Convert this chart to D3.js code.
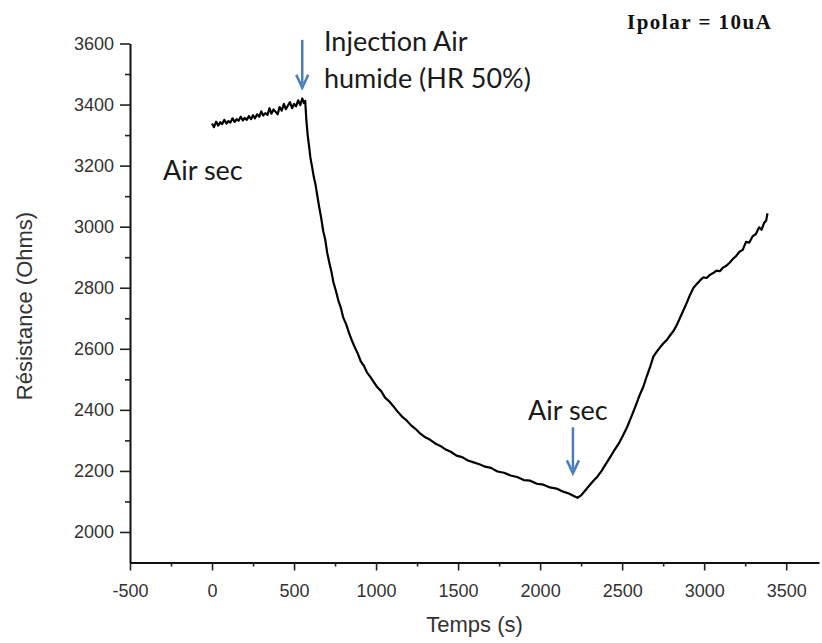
<!DOCTYPE html>
<html>
<head>
<meta charset="utf-8">
<script src="https://cdn.jsdelivr.net/npm/d3@7"></script>
<style>
  body { margin: 0; background: #fff; }
  svg { display: block; }
</style>
</head>
<body>
<div id="chart"></div>
<script>
// temps (s)
var temps = [
  0, 12, 25, 38, 50, 62, 75, 88, 100, 112, 125, 138, 150, 162, 175, 188, 200, 212, 225, 238,
  250, 262, 275, 288, 300, 312, 325, 338, 350, 362, 375, 388, 400, 412, 425, 438, 450, 462, 475, 488,
  500, 512, 525, 538, 550, 560,
  568, 575, 583, 592, 600, 610, 620, 630, 640, 652, 665, 678, 690, 702, 715, 728, 740, 755, 770, 785,
  800, 818, 835, 852, 870, 888, 906, 925, 945, 965, 985, 1008, 1030, 1055, 1080, 1105, 1130, 1158, 1185, 1212,
  1240, 1270, 1300, 1330, 1360, 1392, 1425, 1458, 1490, 1525, 1560, 1595, 1630, 1665, 1700, 1740, 1780, 1820, 1860, 1900,
  1940, 1980, 2020, 2060, 2100, 2140, 2175, 2205, 2228,
  2250, 2275, 2300, 2325, 2350, 2375, 2400, 2428, 2455, 2480, 2505, 2530, 2555, 2580, 2605, 2628, 2650, 2670, 2690, 2710,
  2730, 2752, 2774, 2795, 2815, 2835, 2855, 2875, 2895, 2915, 2935, 2955, 2975, 2995, 3015, 3035, 3055, 3075, 3095, 3115,
  3135, 3155, 3175, 3195, 3215, 3235, 3255, 3275, 3295, 3315, 3335, 3350, 3365, 3378, 3386
];

// résistance (Ohms)
var resistance = [
  3338, 3326, 3344, 3331, 3342, 3336, 3350, 3338, 3346, 3341, 3355, 3343, 3352, 3347, 3360, 3348, 3356, 3350, 3362, 3352,
  3365, 3355, 3368, 3360, 3378, 3364, 3372, 3366, 3388, 3370, 3384, 3376, 3368, 3392, 3380, 3402, 3385, 3396, 3408, 3388,
  3402, 3394, 3414, 3398, 3420, 3405,
  3412, 3350, 3300, 3262, 3225, 3196, 3164, 3140, 3108, 3068, 3030, 2985, 2958, 2915, 2882, 2852, 2818, 2790, 2758, 2735,
  2702, 2680, 2652, 2628, 2605, 2585, 2560, 2545, 2522, 2508, 2492, 2474, 2462, 2440, 2428, 2412, 2395, 2378, 2366, 2350,
  2338, 2322, 2310, 2302, 2290, 2282, 2270, 2262, 2250, 2245, 2234, 2228, 2222, 2214, 2210, 2198, 2194, 2185, 2180, 2170,
  2168, 2158, 2155, 2146, 2142, 2132, 2126, 2118, 2112,
  2120, 2136, 2152, 2168, 2182, 2200, 2222, 2246, 2270, 2290, 2316, 2343, 2376, 2410, 2446, 2474, 2510, 2540, 2574, 2590,
  2604, 2618, 2630, 2646, 2660, 2680, 2704, 2728, 2752, 2778, 2800, 2812, 2824, 2834, 2832, 2842, 2848, 2856, 2854, 2866,
  2872, 2882, 2894, 2904, 2918, 2924, 2950, 2948, 2968, 2976, 2998, 2990, 3012, 3020, 3044
];

var xTicks = [-500, 0, 500, 1000, 1500, 2000, 2500, 3000, 3500];
var xMinorTicks = [-250, 250, 750, 1250, 1750, 2250, 2750, 3250];
var yTicks = [2000, 2200, 2400, 2600, 2800, 3000, 3200, 3400, 3600];
var yMinorTicks = [2100, 2300, 2500, 2700, 2900, 3100, 3300, 3500];

// instants des flèches : [temps, résistance haut, résistance bas]
var injection = [550, 3612, 3455];
var airSec = [2200, 2343, 2192];

var width = 822;
var height = 643;

var svg = d3.select("#chart").append("svg")
  .attr("width", width)
  .attr("height", height);

var xScale = d3.scaleLinear([-500, 3700], [130, 819]);
var yScale = d3.scaleLinear([1900, 3600], [562.5, 43.5]);

var tickFont = "'Liberation Sans', Arial, sans-serif";
var plain = function (d) { return String(d); };

// axe X
svg.append("g")
  .attr("transform", "translate(0," + yScale(1900) + ")")
  .call(d3.axisBottom(xScale).tickValues(xTicks).tickFormat(plain)
    .tickSize(8).tickSizeOuter(0).tickPadding(14));

svg.append("g")
  .attr("transform", "translate(0," + yScale(1900) + ")")
  .call(d3.axisBottom(xScale).tickValues(xMinorTicks).tickSize(4).tickFormat(""))
  .select(".domain").remove();

// axe Y
svg.append("g")
  .attr("transform", "translate(" + xScale(-500) + ",0)")
  .call(d3.axisLeft(yScale).tickValues(yTicks).tickFormat(plain)
    .tickSize(10).tickSizeOuter(0).tickPadding(6));

svg.append("g")
  .attr("transform", "translate(" + xScale(-500) + ",0)")
  .call(d3.axisLeft(yScale).tickValues(yMinorTicks).tickSize(5).tickFormat(""))
  .select(".domain").remove();

svg.selectAll(".domain")
  .attr("stroke", "#111")
  .attr("stroke-width", 2);

svg.selectAll(".tick line")
  .attr("stroke", "#222")
  .attr("stroke-width", 1.6);

svg.selectAll(".tick text")
  .style("font-family", tickFont)
  .style("font-size", "18px")
  .attr("fill", "#333");

// titres des axes
svg.append("text")
  .attr("x", (xScale(-500) + xScale(3700)) / 2)
  .attr("y", 632)
  .attr("text-anchor", "middle")
  .style("font-family", tickFont)
  .style("font-size", "22px")
  .attr("fill", "#333")
  .text("Temps (s)");

svg.append("text")
  .attr("transform", "translate(32," + 306 + ") rotate(-90)")
  .attr("text-anchor", "middle")
  .style("font-family", tickFont)
  .style("font-size", "22px")
  .attr("fill", "#333")
  .text("Résistance (Ohms)");

// courbe
var line = d3.line()
  .x(function (d, i) {
    return xScale(temps[i]);
  })
  .y(function (d) {
    return yScale(d);
  });

svg.append("path")
  .datum(resistance)
  .attr("d", line)
  .attr("fill", "none")
  .attr("stroke", "#000")
  .attr("stroke-width", 2.2)
  .attr("stroke-linejoin", "round");

// flèches bleues
var blue = "#4a7ebb";

function arrow(a) {
  var x = xScale(a[0]);
  var y0 = yScale(a[1]);
  var y1 = yScale(a[2]);
  svg.append("line")
    .attr("x1", x).attr("x2", x)
    .attr("y1", y0).attr("y2", y1 - 4)
    .attr("stroke", blue)
    .attr("stroke-width", 2.5);
  svg.append("path")
    .attr("d", "M" + (x - 6) + "," + (y1 - 13) + "L" + x + "," + y1 + "L" + (x + 6) + "," + (y1 - 13))
    .attr("fill", "none")
    .attr("stroke", blue)
    .attr("stroke-width", 2.5)
    .attr("stroke-linejoin", "miter");
}

arrow(injection);
arrow(airSec);

// annotations
var noteFont = "Lato, 'Open Sans', sans-serif";

var notes = [
  { x: 324, y: 51, t: "Injection Air" },
  { x: 324, y: 88, t: "humide (HR 50%)" },
  { x: 163, y: 180, t: "Air sec" },
  { x: 528, y: 420, t: "Air sec" }
];

svg.selectAll(".note")
  .data(notes)
  .join("text")
  .attr("class", "note")
  .attr("x", function (d) { return d.x; })
  .attr("y", function (d) { return d.y; })
  .style("font-family", noteFont)
  .style("font-size", "27px")
  .attr("fill", "#1a1a1a")
  .text(function (d) { return d.t; });

svg.append("text")
  .attr("x", 627)
  .attr("y", 29)
  .style("font-family", "'Liberation Serif', 'Times New Roman', serif")
  .style("font-weight", "bold")
  .style("font-size", "21px")
  .style("letter-spacing", "1.5px")
  .attr("fill", "#111")
  .text("Ipolar = 10uA");
</script>
</body>
</html>
